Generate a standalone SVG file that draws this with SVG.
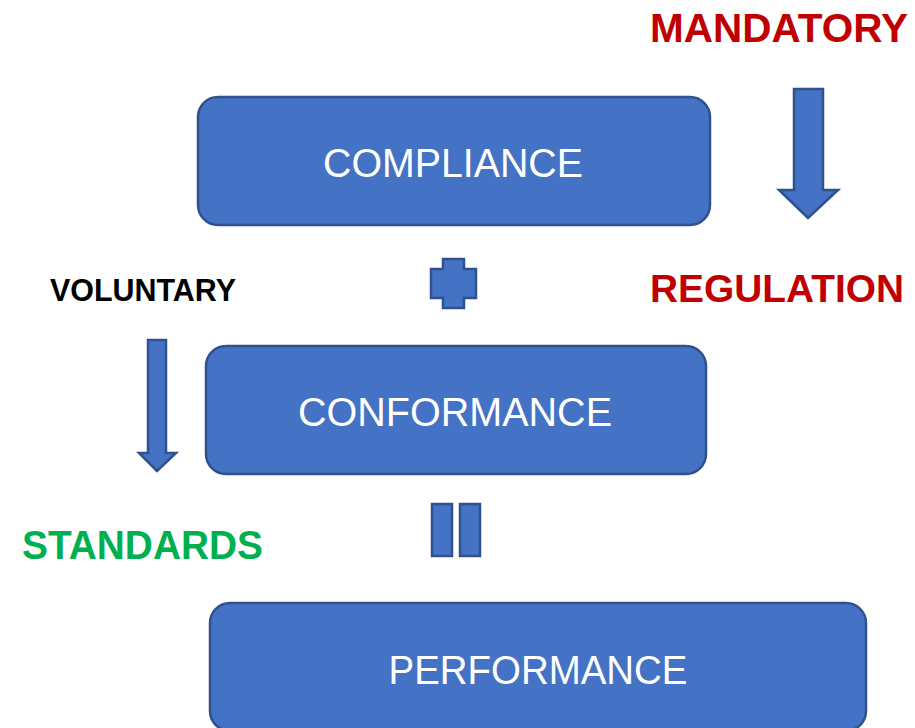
<svg xmlns="http://www.w3.org/2000/svg" width="915" height="728" viewBox="0 0 915 728">
<style>
.box{fill:#4472C4;stroke:#2F528F;stroke-width:2.5}
.shape{fill:#4472C4;stroke:#2F528F;stroke-width:2.5;stroke-linejoin:miter}
.btxt{font-family:"Liberation Sans",Arial,sans-serif;font-size:41px;fill:#FFFFFF;text-anchor:middle}
.lbl{font-family:"Liberation Sans",Arial,sans-serif;font-weight:bold}
</style>
<rect width="915" height="728" fill="#FFFFFF"/>
<g id="compliance">
<rect class="box" x="198" y="97" width="512" height="128" rx="20"/>
<text class="btxt" x="453" y="177" textLength="260" lengthAdjust="spacingAndGlyphs">COMPLIANCE</text>
</g>
<g id="conformance">
<rect class="box" x="206" y="346" width="500" height="128" rx="20"/>
<text class="btxt" x="455" y="426" textLength="314" lengthAdjust="spacingAndGlyphs">CONFORMANCE</text>
</g>
<g id="performance">
<rect class="box" x="210" y="603" width="656" height="128" rx="20"/>
<text class="btxt" x="538" y="684" textLength="299" lengthAdjust="spacingAndGlyphs">PERFORMANCE</text>
</g>
<g id="plus">
<path class="shape" d="M443,259 H464 V269 H476 V298 H464 V308 H443 V298 H431 V269 H443 Z"/>
</g>
<g id="equals">
<rect class="shape" x="432" y="504" width="20" height="52"/>
<rect class="shape" x="460" y="504" width="20" height="52"/>
</g>
<g id="connectors">
<path class="shape" d="M794,89 H823 V190 H838 L808,218 L779,190 H794 Z"/>
<path class="shape" d="M148,340 H166 V453 H176 L157,471 L139,453 H148 Z"/>
</g>
<g id="labels">
<text class="lbl" x="650" y="42" font-size="40" fill="#C00000" textLength="258" lengthAdjust="spacingAndGlyphs">MANDATORY</text>
<text class="lbl" x="650" y="302" font-size="39" fill="#C00000" textLength="254" lengthAdjust="spacingAndGlyphs">REGULATION</text>
<text class="lbl" x="50" y="301" font-size="32" fill="#000000" textLength="186" lengthAdjust="spacingAndGlyphs">VOLUNTARY</text>
<text class="lbl" x="22" y="559" font-size="40" fill="#00B050" textLength="241" lengthAdjust="spacingAndGlyphs">STANDARDS</text>
</g>
</svg>
